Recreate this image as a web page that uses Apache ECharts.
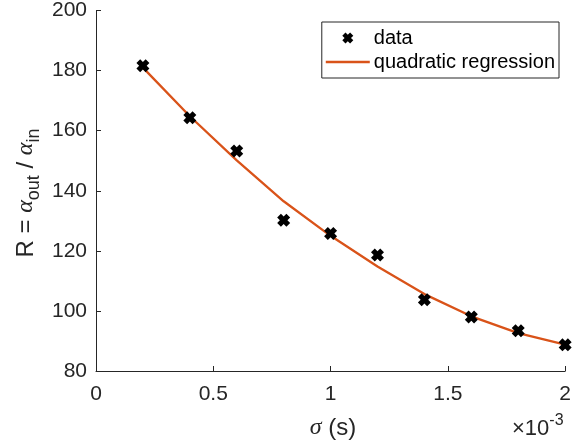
<!DOCTYPE html>
<html>
<head>
<meta charset="utf-8">
<script src="https://cdn.jsdelivr.net/npm/echarts@6/dist/echarts.min.js"></script>
<style>html,body{margin:0;padding:0;background:#fff}#c{width:574px;height:445px}</style>
</head>
<body>
<div id="c"></div>
<script>
// sigma in units of 1e-3 s
var sigma = [0.2, 0.4, 0.6, 0.8, 1.0, 1.2, 1.4, 1.6, 1.8, 2.0];
var ratioData = [181.6, 164.3, 153.2, 130.2, 125.8, 118.6, 103.7, 98.0, 93.4, 88.7];
var ratioFit = [181.0, 164.8, 150.1, 136.5, 125.0, 114.8, 105.6, 98.2, 92.6, 88.8];
var xTicks = [0, 0.5, 1, 1.5, 2];
var yTicks = [80, 100, 120, 140, 160, 180, 200];

var axisColor = '#262626';
var font = 'Liberation Sans, Arial, Helvetica, sans-serif';
var serif = 'Liberation Serif, Times New Roman, serif';
var xPath = 'path://M0,2.9 L2.9,0 L5,2.1 L7.1,0 L10,2.9 L7.9,5 L10,7.1 L7.1,10 L5,7.9 L2.9,10 L0,7.1 L2.1,5 Z';
var linePath = 'path://M0,0 L44,0 L44,2.4 L0,2.4 Z';

var chart = echarts.init(document.getElementById('c'), null, {renderer: 'canvas'});
chart.setOption({
  animation: false,
  backgroundColor: '#fff',
  grid: {left: 96, right: 2, top: 10, bottom: 74, containLabel: false},
  xAxis: {
    type: 'value', min: xTicks[0], max: xTicks[xTicks.length - 1], interval: 0.5,
    axisLine: {show: true, lineStyle: {color: axisColor, width: 1}},
    axisTick: {show: true, inside: true, length: 5, lineStyle: {color: axisColor}},
    axisLabel: {color: axisColor, fontSize: 21, fontFamily: font, margin: 13,
      formatter: function (v) { return String(v); }},
    splitLine: {show: false}
  },
  yAxis: {
    type: 'value', min: yTicks[0], max: yTicks[yTicks.length - 1], interval: 20,
    axisLine: {show: true, lineStyle: {color: axisColor, width: 1}},
    axisTick: {show: true, inside: true, length: 5, lineStyle: {color: axisColor}},
    axisLabel: {color: axisColor, fontSize: 21, fontFamily: font, margin: 9},
    splitLine: {show: false}
  },
  legend: {
    right: 15, top: 22,
    orient: 'vertical',
    borderColor: axisColor, borderWidth: 1, borderRadius: 0,
    backgroundColor: '#fff',
    padding: [4, 4, 4, 4],
    itemGap: 0,
    itemWidth: 44, itemHeight: 11,
    textStyle: {color: '#000', fontSize: 20, fontFamily: font, lineHeight: 24, padding: [0, 0, 0, -1]},
    data: [
      {name: 'data', icon: xPath, itemStyle: {color: '#000', opacity: 1}},
      {name: 'quadratic regression', icon: linePath, itemStyle: {color: '#D95319'}}
    ]
  },
  series: [
    {
      name: 'quadratic regression', type: 'line',
      data: sigma.map(function (s, i) { return [s, ratioFit[i]]; }),
      showSymbol: false, symbol: 'none', smooth: false,
      lineStyle: {color: '#D95319', width: 2.3},
      itemStyle: {color: '#D95319'},
      z: 2
    },
    {
      name: 'data', type: 'scatter',
      data: sigma.map(function (s, i) { return [s, ratioData[i]]; }),
      symbol: xPath, symbolSize: 13,
      itemStyle: {color: '#000', opacity: 1},
      clip: false,
      z: 3
    }
  ],
  graphic: [
    {
      type: 'text', x: 26, y: 193, rotation: Math.PI / 2,
      style: {
        text: '{n|R = }{g|α}{s|out}{n| / }{g|α}{s|in}',
        align: 'center', verticalAlign: 'middle',
        rich: {
          n: {fontSize: 24, fontFamily: font, fill: axisColor, lineHeight: 34, verticalAlign: 'middle'},
          g: {fontSize: 24, fontFamily: serif, fontStyle: 'italic', fill: axisColor, lineHeight: 34, verticalAlign: 'middle'},
          s: {fontSize: 18, fontFamily: font, fill: axisColor, lineHeight: 16, verticalAlign: 'bottom'}
        }
      }
    },
    {
      type: 'text', x: 333, y: 428,
      style: {
        text: '{g|σ}{n| (s)}',
        align: 'center', verticalAlign: 'middle',
        rich: {
          n: {fontSize: 24, fontFamily: font, fill: axisColor},
          g: {fontSize: 24, fontFamily: serif, fontStyle: 'italic', fill: axisColor}
        }
      }
    },
    {
      type: 'text', x: 512, y: 429,
      style: {
        text: '{n|×10}{p|-3}',
        align: 'left', verticalAlign: 'middle',
        rich: {
          n: {fontSize: 22, fontFamily: font, fill: axisColor, lineHeight: 32, verticalAlign: 'middle'},
          p: {fontSize: 16, fontFamily: font, fill: axisColor, lineHeight: 14, verticalAlign: 'top'}
        }
      }
    }
  ]
});
</script>
</body>
</html>
